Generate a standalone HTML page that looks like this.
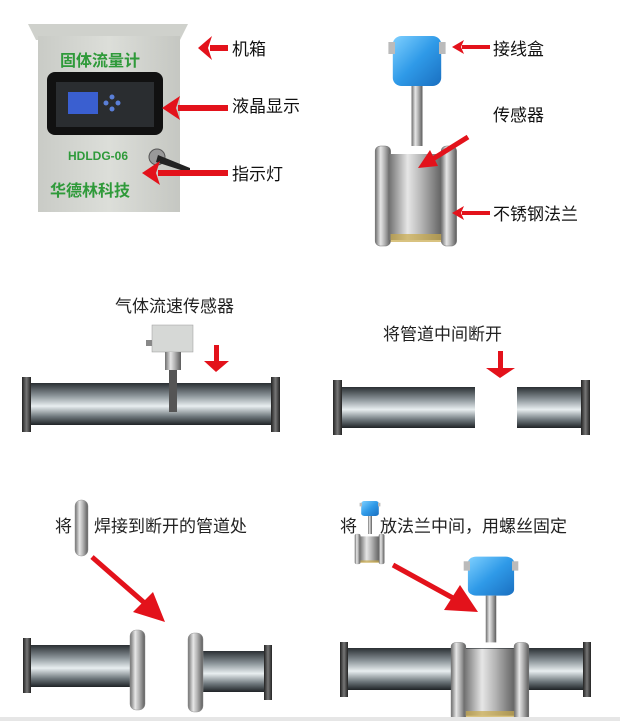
<!DOCTYPE html>
<html><head><meta charset="utf-8"><style>
html,body{margin:0;padding:0;background:#fff;}
svg{display:block;}
text{font-family:"Liberation Sans","Noto Sans CJK SC",sans-serif;}
</style></head><body>
<svg width="620" height="721" viewBox="0 0 620 721" xmlns="http://www.w3.org/2000/svg">
<defs>
<linearGradient id="pipe" x1="0" y1="0" x2="0" y2="1">
<stop offset="0" stop-color="#2a2f33"/><stop offset="0.3" stop-color="#8a9398"/><stop offset="0.55" stop-color="#e8eef0"/><stop offset="0.8" stop-color="#6e777c"/><stop offset="1" stop-color="#1f2326"/></linearGradient>
<linearGradient id="fl" x1="0" y1="0" x2="1" y2="0">
<stop offset="0" stop-color="#222"/><stop offset="0.5" stop-color="#777"/><stop offset="1" stop-color="#222"/></linearGradient>
<linearGradient id="steel" x1="0" y1="0" x2="1" y2="0">
<stop offset="0" stop-color="#6d6d6d"/><stop offset="0.35" stop-color="#e6e6e6"/><stop offset="0.6" stop-color="#b5b5b5"/><stop offset="1" stop-color="#5b5b5b"/></linearGradient>
<linearGradient id="blue" x1="0" y1="0" x2="1" y2="1">
<stop offset="0" stop-color="#7fd0ff"/><stop offset="0.5" stop-color="#2f9ae8"/><stop offset="1" stop-color="#1a6fc0"/></linearGradient>
<linearGradient id="box" x1="0" y1="0" x2="1" y2="0">
<stop offset="0" stop-color="#c9cbc6"/><stop offset="0.5" stop-color="#dcded9"/><stop offset="1" stop-color="#c5c7c2"/></linearGradient>
<g id="meter">
<rect x="-22" y="-30" width="44" height="50" rx="8" fill="url(#blue)"/>
<rect x="-26" y="-24" width="6" height="12" fill="#bbb"/><rect x="20" y="-24" width="6" height="12" fill="#bbb"/>
<rect x="-5" y="20" width="10" height="60" fill="url(#steel)"/>
<rect x="-38" y="80" width="14" height="100" rx="5" fill="url(#steel)" stroke="#777" stroke-width="0.5"/>
<rect x="-26" y="88" width="50" height="86" fill="url(#steel)"/>
<rect x="22" y="80" width="14" height="100" rx="5" fill="url(#steel)" stroke="#777" stroke-width="0.5"/>
<rect x="-24" y="168" width="46" height="8" fill="#c9a94a" opacity="0.7"/>
</g>
</defs>

<!-- cabinet -->
<polygon points="28,24 188,24 180,40 36,40" fill="#cfd1cc"/>
<rect x="38" y="36" width="142" height="176" fill="url(#box)"/>
<text x="60" y="66" font-size="16" font-weight="bold" fill="#2f9a3a">固体流量计</text>
<rect x="47" y="72" width="116" height="63" rx="8" fill="#111"/>
<rect x="56" y="82" width="98" height="45" fill="#2a2d30"/>
<rect x="68" y="92" width="30" height="22" fill="#3a5fd0"/>
<circle cx="112" cy="97" r="2.5" fill="#5a7fd8"/><circle cx="106" cy="103" r="2.5" fill="#5a7fd8"/><circle cx="118" cy="103" r="2.5" fill="#5a7fd8"/><circle cx="112" cy="109" r="2.5" fill="#5a7fd8"/>
<text x="68" y="160" font-size="12" font-weight="bold" fill="#2f9a3a" font-family="Liberation Mono">HDLDG-06</text>
<circle cx="157" cy="157" r="8" fill="#999" stroke="#555"/>
<path d="M158,155 L190,168 L190,173 L156,162Z" fill="#222"/>
<text x="50" y="196" font-size="16" font-weight="bold" fill="#2f9a3a">华德林科技</text>
<!-- cabinet arrows -->
<g fill="#e3121b">
<rect x="210" y="45" width="18" height="6"/><polygon points="198,48 212,36 208,48 212,60"/>
<rect x="178" y="105" width="50" height="6"/><polygon points="162,108 180,96 176,108 180,120"/>
<rect x="158" y="170" width="70" height="6"/><polygon points="142,173 160,161 156,173 160,185"/>
</g>
<text x="232" y="55" font-size="17" fill="#111">机箱</text>
<text x="232" y="112" font-size="17" fill="#111">液晶显示</text>
<text x="232" y="180" font-size="17" fill="#111">指示灯</text>

<!-- top right meter -->
<g transform="translate(417,66) scale(1.1,1.0)"><use href="#meter"/></g>
<g fill="#e3121b">
<rect x="462" y="45" width="28" height="4"/><polygon points="452,47 464,40 461,47 464,54"/>
<line x1="468" y1="137" x2="428" y2="162" stroke="#e3121b" stroke-width="5"/><polygon points="418,168 430,150 438,166"/>
<rect x="462" y="211" width="28" height="4"/><polygon points="452,213 464,206 461,213 464,220"/>
</g>
<text x="493" y="55" font-size="17" fill="#111">接线盒</text>
<text x="493" y="121" font-size="17" fill="#111">传感器</text>
<text x="493" y="220" font-size="17" fill="#111">不锈钢法兰</text>

<!-- pipe 1 -->
<text x="115" y="312" font-size="17" fill="#222">气体流速传感器</text>
<rect x="30" y="383" width="242" height="42" fill="url(#pipe)"/>
<rect x="22" y="377" width="9" height="55" fill="url(#fl)"/><rect x="271" y="377" width="9" height="55" fill="url(#fl)"/>
<rect x="152" y="325" width="41" height="27" fill="#d6d8d6" stroke="#999" stroke-width="0.5"/>
<rect x="146" y="340" width="6" height="6" fill="#888"/>
<rect x="165" y="352" width="16" height="18" fill="url(#steel)"/>
<rect x="169" y="370" width="8" height="42" fill="#555"/>
<g fill="#e3121b"><rect x="214" y="345" width="5" height="18"/><polygon points="204,361 229,361 216,372"/></g>

<!-- pipe 2 -->
<text x="383" y="340" font-size="17" fill="#222">将管道中间断开</text>
<rect x="340" y="387" width="135" height="41" fill="url(#pipe)"/>
<rect x="333" y="380" width="9" height="55" fill="url(#fl)"/>
<rect x="517" y="387" width="65" height="41" fill="url(#pipe)"/>
<rect x="581" y="380" width="9" height="55" fill="url(#fl)"/>
<g fill="#e3121b"><rect x="498" y="351" width="5" height="18"/><polygon points="486,368 515,368 500,378"/></g>

<!-- step 3 -->
<text x="55" y="532" font-size="17" fill="#222">将</text>
<text x="94" y="532" font-size="17" fill="#222">焊接到断开的管道处</text>
<rect x="75" y="500" width="13" height="56" rx="6" fill="url(#steel)" stroke="#999" stroke-width="0.5"/>
<line x1="92" y1="557" x2="148" y2="606" stroke="#e3121b" stroke-width="5"/>
<polygon points="165,622 133,612 153,592" fill="#e3121b"/>
<rect x="28" y="645" width="106" height="42" fill="url(#pipe)"/>
<rect x="23" y="638" width="8" height="55" fill="url(#fl)"/>
<rect x="130" y="630" width="15" height="80" rx="6" fill="url(#steel)" stroke="#999" stroke-width="0.5"/>
<rect x="200" y="651" width="65" height="41" fill="url(#pipe)"/>
<rect x="188" y="633" width="15" height="79" rx="6" fill="url(#steel)" stroke="#999" stroke-width="0.5"/>
<rect x="264" y="645" width="8" height="55" fill="url(#fl)"/>

<!-- step 4 -->
<text x="340" y="532" font-size="17" fill="#222">将</text>
<text x="380" y="532" font-size="17" fill="#222">放法兰中间，用螺丝固定</text>
<g transform="translate(370,510) scale(0.4,0.3)"><use href="#meter"/></g>
<line x1="393" y1="565" x2="462" y2="603" stroke="#e3121b" stroke-width="5"/>
<polygon points="478,612 444,610 460,585" fill="#e3121b"/>
<rect x="345" y="648" width="240" height="42" fill="url(#pipe)"/>
<rect x="340" y="642" width="8" height="55" fill="url(#fl)"/>
<rect x="583" y="642" width="8" height="55" fill="url(#fl)"/>
<g transform="translate(491,580) scale(1.05,0.78)"><use href="#meter"/></g>

<rect x="0" y="717" width="620" height="4" fill="#e6e6e6"/>
</svg>
</body></html>
